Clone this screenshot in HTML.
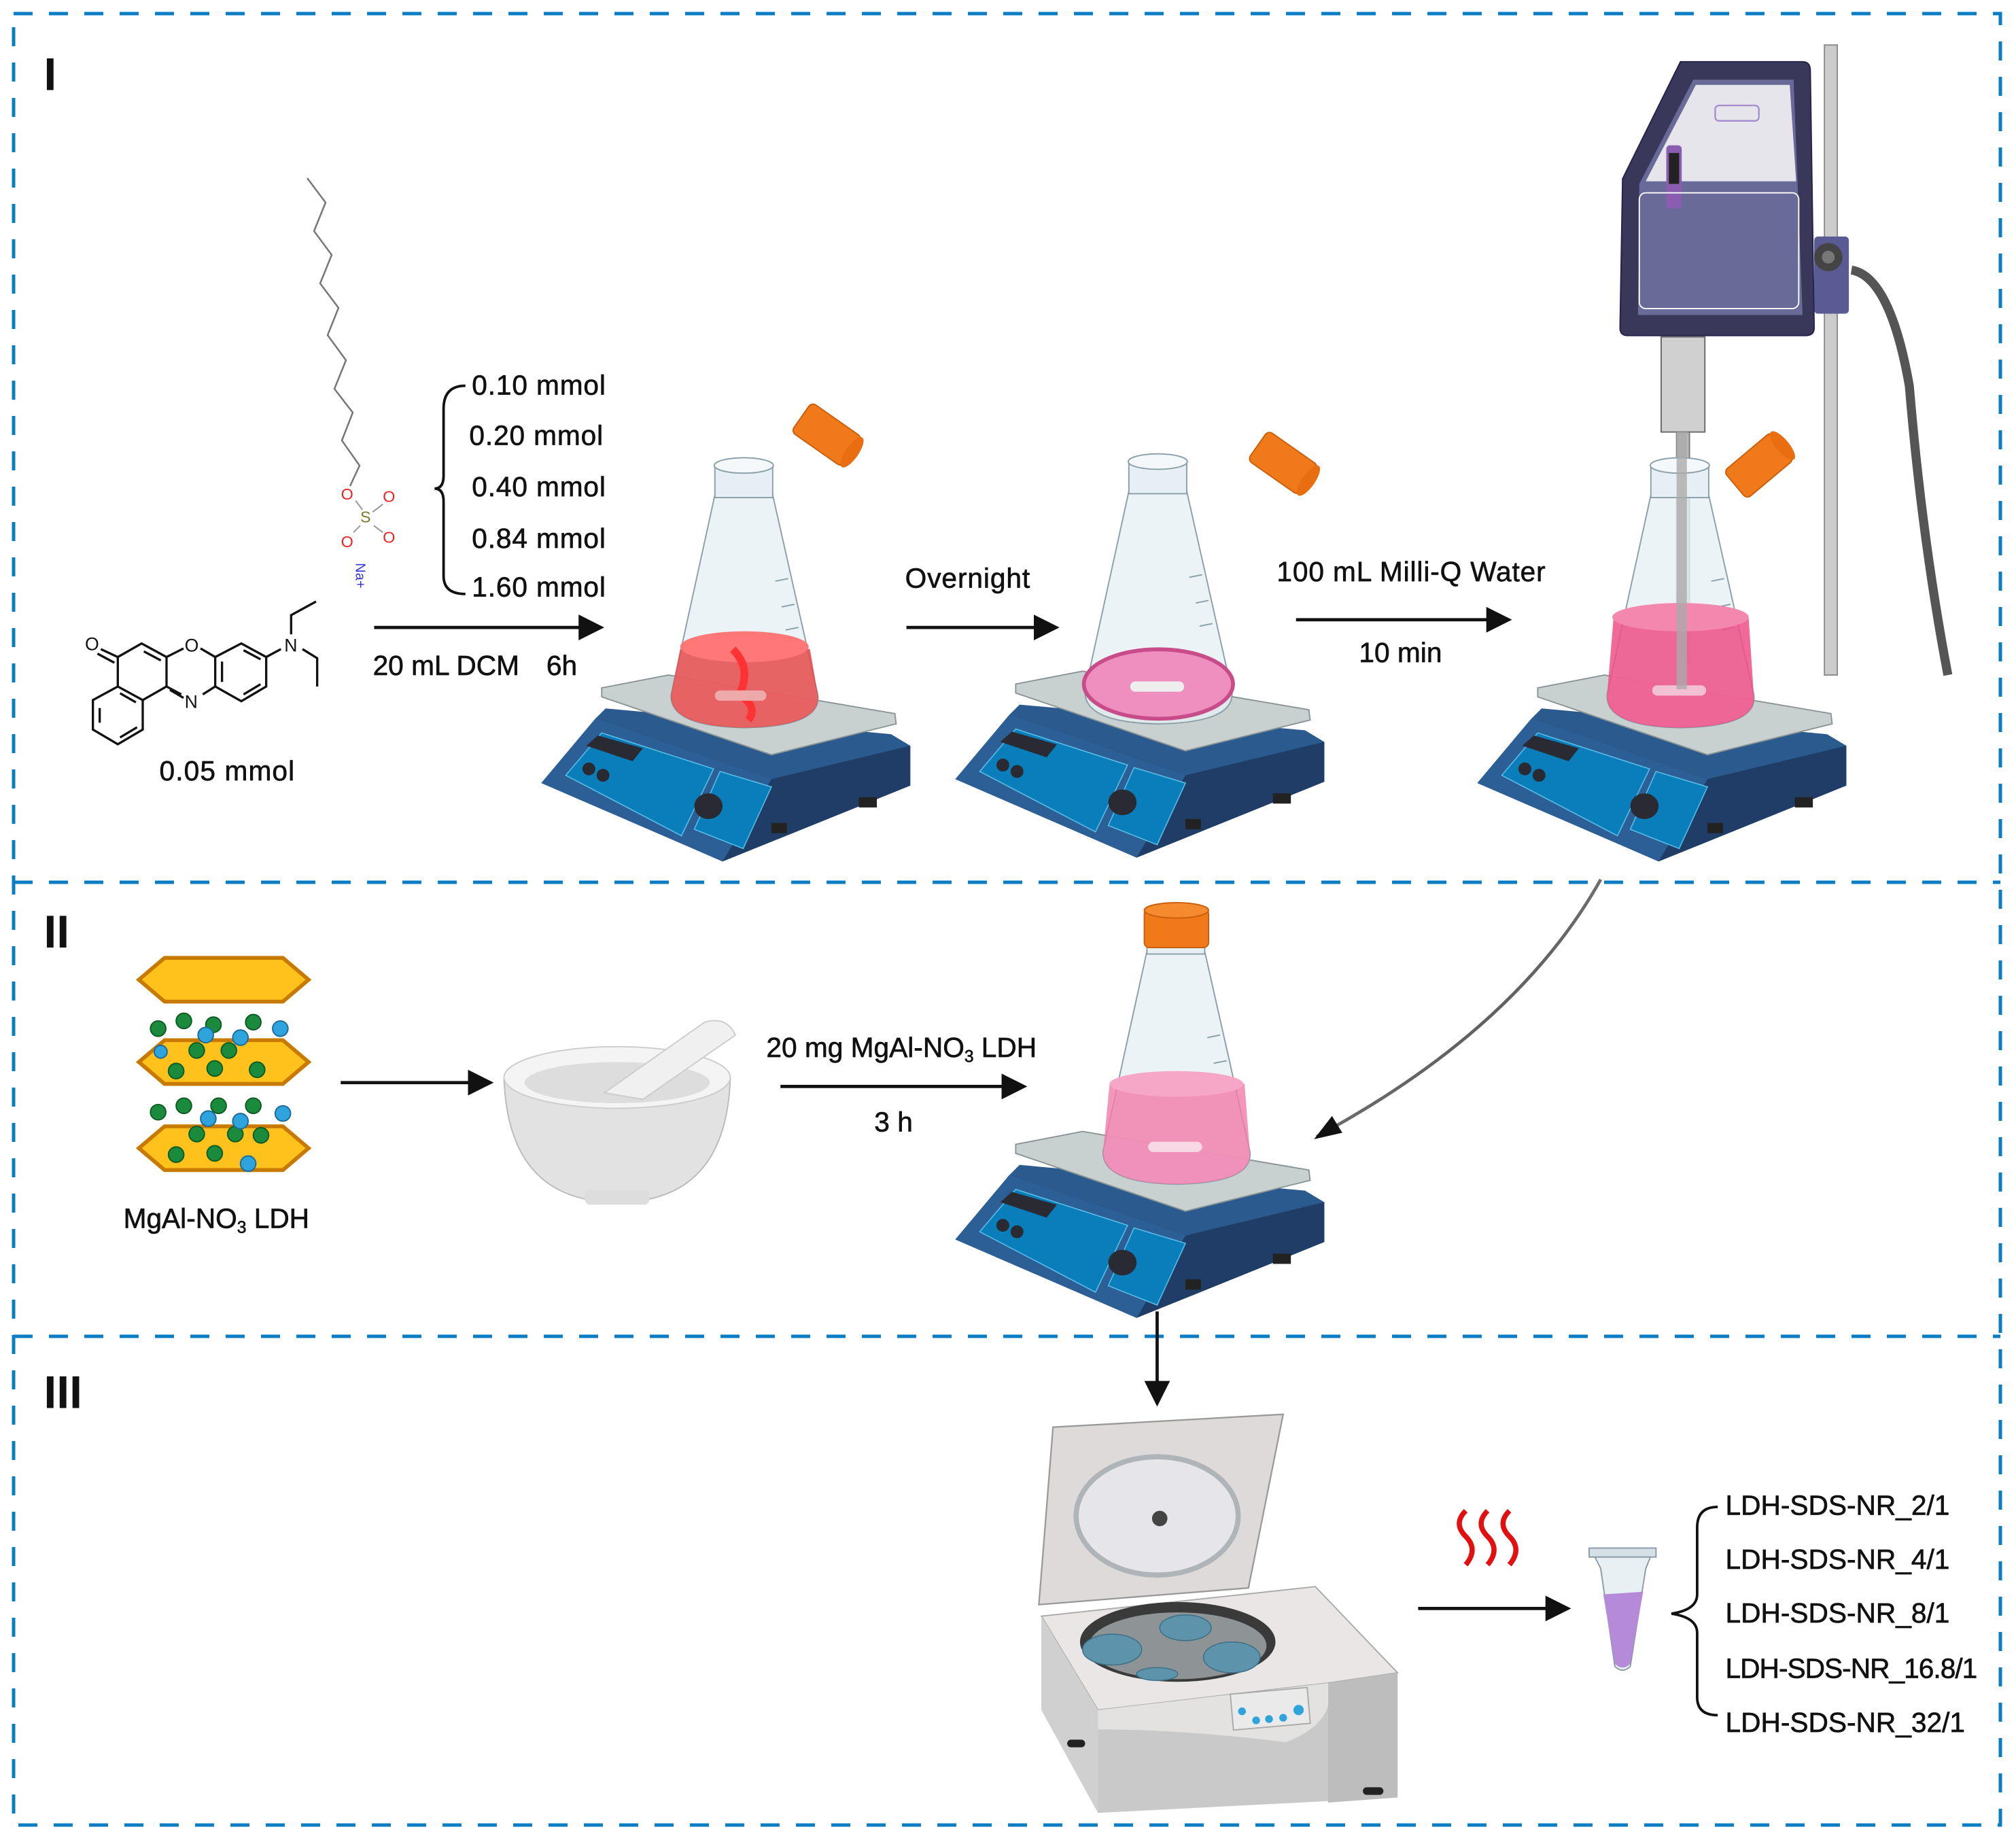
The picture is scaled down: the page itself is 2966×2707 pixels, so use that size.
<!DOCTYPE html>
<html><head><meta charset="utf-8"><style>
html,body{margin:0;padding:0;background:#fff;}
svg{display:block;}
text{font-family:"Liberation Sans",sans-serif;fill:#111;}
.t text{stroke:#111;stroke-width:0.35;}
</style></head><body>
<svg width="2966" height="2707" viewBox="0 0 2966 2707" xmlns="http://www.w3.org/2000/svg">
<defs>
<marker id="ah2" viewBox="0 0 10 10" refX="8" refY="5" markerWidth="20" markerHeight="20" orient="auto" markerUnits="userSpaceOnUse"><path d="M0,0 L10,5 L0,10 Z" fill="#111"/></marker>
<g id="plate">
 <polygon points="421,609 463,559 471,551 693,571 708,580 708,611 562,670" fill="#2b5a8e"/>
 <polygon points="463,559 600,606 562,670 421,609" fill="#2c5f95"/>
 <polygon points="600,606 708,580 708,611 562,670" fill="#1f3d66"/>
 <polygon points="440,603 468,570 555,598 530,650" fill="#0a7dbb" stroke="#5bc0e8" stroke-width="0.8"/>
 <polygon points="560,600 600,612 578,660 540,645" fill="#0a7dbb" stroke="#5bc0e8" stroke-width="0.8"/>
 <polygon points="456,580 465,572 500,582 492,592" fill="#2a2a33"/>
 <circle cx="458" cy="598" r="5" fill="#2a2a33"/><circle cx="469" cy="603" r="5" fill="#2a2a33"/>
 <ellipse cx="551" cy="627" rx="11" ry="10" fill="#2a2a33"/>
 <rect x="600" y="640" width="12" height="8" fill="#222"/><rect x="668" y="620" width="14" height="8" fill="#222"/>
 <polygon points="468,535 520,525 696,555 697,563 600,587 468,542" fill="#c9d0d0" stroke="#8a9494" stroke-width="1"/>
</g>
<g id="flaskbody">
 <path d="M556,385 L522,540 Q520,565 579,566 Q640,565 636,540 L601,385 Z" fill="#e6f0f4" fill-opacity="0.8" stroke="#8a9ea8" stroke-width="1"/>
 <rect x="556" y="362" width="45" height="25" fill="#e6f0f4" stroke="#8a9ea8" stroke-width="1"/>
 <ellipse cx="578.5" cy="362" rx="23" ry="6" fill="#f4f8fa" stroke="#8a9ea8" stroke-width="1"/>
 <path d="M613,450 l-10,2 M618,470 l-10,2 M621,488 l-10,2" stroke="#8a9ea8" stroke-width="1"/>
</g>
<g id="cap"><rect x="-24" y="-14" width="48" height="28" rx="4" fill="#f07a1a" stroke="#c85e0a" stroke-width="1"/><ellipse cx="24" cy="0" rx="5" ry="14" fill="#e86e10"/></g>
<linearGradient id="gr" x1="0" y1="0" x2="1" y2="1"><stop offset="0" stop-color="#ccc"/><stop offset="1" stop-color="#111"/></linearGradient>
</defs>

<g fill="none" stroke="#0a7dc4" stroke-width="5" stroke-dasharray="28 24">
<rect x="20" y="20" width="2923" height="2665"/>
<line x1="20" y1="1298" x2="2943" y2="1298"/>
<line x1="20" y1="1966" x2="2943" y2="1966"/>
</g>

<g fill="none" stroke="#777" stroke-width="2.5">
<polyline points="452,262 479,298 462,340 488,375 471,417 498,453 482,493 509,530 492,572 519,607 503,648 529,685 515,715"/>
</g>
<g transform="translate(100,650) scale(0.3333)">
 <g fill="none" stroke="#111" stroke-width="10">
 <polygon points="110,1140 220,1080 330,1140 330,1270 220,1335 110,1270"/>
 <polyline points="140,1175 140,1240"/><polyline points="230,1305 305,1260"/><polyline points="230,1110 300,1150"/>
 <polyline points="220,1080 220,950 325,890 435,950 435,1080 330,1140"/>
 <polyline points="335,925 410,965"/>
 <polyline points="220,950 145,915"/><polyline points="205,975 130,935"/>
 <polyline points="435,950 510,912"/><polyline points="585,912 650,950 650,1080 595,1115"/><polyline points="500,1115 435,1080"/>
 <polyline points="450,1095 510,1130"/><polyline points="680,970 680,1060"/>
 <polyline points="650,950 765,890 875,950 875,1080 765,1145 650,1080"/>
 <polyline points="775,920 850,960"/><polyline points="775,1115 850,1070"/>
 <polyline points="875,950 940,915"/><polyline points="985,850 985,765 1095,705"/><polyline points="1035,915 1100,955 1100,1080"/>
 </g>
 <text x="75" y="920" font-size="80">O</text>
 <text x="515" y="925" font-size="80">O</text>
 <text x="515" y="1175" font-size="80">N</text>
 <text x="955" y="925" font-size="80">N</text>
 <g fill="none" stroke="#999" stroke-width="6"><polyline points="1270,260 1300,300"/><polyline points="1345,310 1390,275"/><polyline points="1290,370 1260,400"/><polyline points="1350,370 1390,400"/></g>
 <text x="1205" y="255" font-size="70" style="fill:#e22">O</text>
 <text x="1390" y="265" font-size="70" style="fill:#e22">O</text>
 <text x="1290" y="355" font-size="70" style="fill:#7a7a2a">S</text>
 <text x="1205" y="465" font-size="70" style="fill:#e22">O</text>
 <text x="1390" y="445" font-size="70" style="fill:#e22">O</text>
 <text x="1215" y="530" font-size="60" transform="rotate(90 1240 560)" style="fill:#33d">Na+</text>
</g>

<g transform="scale(1.8916)">
<text x="34" y="70" font-size="36" font-weight="bold">I</text>
<text x="34" y="737" font-size="36" font-weight="bold">II</text>
<text x="34" y="1095" font-size="36" font-weight="bold">III</text>

<path d="M362,300 Q345,300 345,318 L345,370 Q345,380 338,380 Q345,380 345,390 L345,448 Q345,462 362,462" fill="none" stroke="#111" stroke-width="2"/>
<g font-size="21.5" class="t">
<text x="367" y="307" textLength="104">0.10 mmol</text>
<text x="365" y="346" textLength="104">0.20 mmol</text>
<text x="367" y="386" textLength="104">0.40 mmol</text>
<text x="367" y="426" textLength="104">0.84 mmol</text>
<text x="367" y="464" textLength="104">1.60 mmol</text>
<text x="290" y="525">20 mL DCM</text>
<text x="425" y="525">6h</text>
<text x="124" y="607" textLength="105">0.05 mmol</text>
<text x="704" y="457" textLength="97">Overnight</text>
<text x="993" y="452" textLength="209">100 mL Milli-Q Water</text>
<text x="1057" y="515">10 min</text>
<text x="596" y="822">20 mg MgAl-NO<tspan font-size="13" dy="4">3</tspan><tspan dy="-4"> LDH</tspan></text>
<text x="680" y="880">3 h</text>
<text x="96" y="955">MgAl-NO<tspan font-size="13" dy="4">3</tspan><tspan dy="-4"> LDH</tspan></text>
<text x="1342" y="1178">LDH-SDS-NR_2/1</text>
<text x="1342" y="1220">LDH-SDS-NR_4/1</text>
<text x="1342" y="1262">LDH-SDS-NR_8/1</text>
<text x="1342" y="1305" textLength="196">LDH-SDS-NR_16.8/1</text>
<text x="1342" y="1347">LDH-SDS-NR_32/1</text>
</g>
<path d="M1336,1172 Q1320,1172 1320,1188 L1320,1240 Q1320,1252 1300,1255 Q1320,1258 1320,1270 L1320,1320 Q1320,1334 1336,1334" fill="none" stroke="#111" stroke-width="2"/>

<g stroke="#111" stroke-width="2.5" fill="none" marker-end="url(#ah2)">
<line x1="291" y1="488" x2="466" y2="488"/>
<line x1="705" y1="488" x2="820" y2="488"/>
<line x1="1008" y1="482" x2="1172" y2="482"/>
<line x1="265" y1="842" x2="380" y2="842"/>
<line x1="607" y1="845" x2="795" y2="845"/>
<line x1="900" y1="1020" x2="900" y2="1090"/>
<line x1="1103" y1="1251" x2="1218" y2="1251"/>
</g>
<path d="M1245,684 Q1180,800 1024,884" stroke="url(#gr)" stroke-width="2.5" fill="none"/>
<path d="M1036,868 L1022,886 L1044,881 Z" fill="#111"/>

<use href="#plate"/>
<use href="#plate" transform="translate(322,-3)"/>
<use href="#plate" transform="translate(728,0)"/>
<use href="#plate" transform="translate(322,355)"/>

<use href="#flaskbody"/>
<path d="M529,505 Q579,488 630,505 L636,540 Q640,565 579,566 Q520,565 522,540 Z" fill="#e64a4a" fill-opacity="0.85"/>
<ellipse cx="579" cy="503" rx="50" ry="12" fill="#f77"/>
<path d="M570,505 Q585,520 575,540 Q590,550 582,560" stroke="#f33" stroke-width="6" fill="none"/>
<rect x="556" y="537" width="40" height="8" rx="4" fill="#eaa"/>
<use href="#cap" transform="translate(643,338) rotate(35)"/>

<g transform="translate(322,-3)"><use href="#flaskbody"/>
<ellipse cx="579" cy="535" rx="58" ry="27" fill="#ef8fc0" stroke="#c84b8a" stroke-width="3"/>
<rect x="557" y="533" width="42" height="8" rx="4" fill="#eee"/></g>
<use href="#cap" transform="translate(998,360) rotate(35)"/>

<rect x="1419" y="35" width="10" height="490" fill="#ccc" stroke="#888" stroke-width="1"/>
<path d="M1440,210 Q1470,215 1485,300 Q1495,420 1515,525" stroke="#555" stroke-width="7" fill="none"/>
<rect x="1411" y="184" width="27" height="60" rx="3" fill="#5a5a95"/>
<circle cx="1422" cy="200" r="11" fill="#444"/><circle cx="1422" cy="200" r="5" fill="#777"/>
<rect x="1292" y="262" width="34" height="74" fill="#d0d0d0" stroke="#666" stroke-width="1"/>
<rect x="1304" y="336" width="10" height="180" fill="#bbb" stroke="#777" stroke-width="1"/>
<path d="M1307,48 L1402,48 Q1408,48 1408,55 L1411,255 Q1411,261 1404,261 L1266,261 Q1260,261 1260,255 L1262,139 Z" fill="#39375a" stroke="#23224a" stroke-width="1"/>
<path d="M1317,62 L1395,62 L1402,245 L1274,245 L1275,143 Z" fill="#696a98"/>
<path d="M1319,66 L1392,66 L1397,141 L1280,141 Z" fill="#e6e5ec"/>
<rect x="1334" y="82" width="34" height="12" rx="3" fill="none" stroke="#a58bd0" stroke-width="1.2"/>
<rect x="1296" y="113" width="12" height="49" rx="3" fill="#8b5db0"/>
<rect x="1298" y="119" width="8" height="24" fill="#222"/>
<rect x="1275" y="150" width="124" height="90" rx="5" fill="none" stroke="#fff" stroke-width="1"/>

<g transform="translate(728,0)"><use href="#flaskbody"/>
<path d="M527,480 Q579,466 632,480 L636,540 Q640,565 579,566 Q520,565 522,540 Z" fill="#ef4f86" fill-opacity="0.85"/>
<ellipse cx="579" cy="480" rx="53" ry="11" fill="#f487ad"/>
<rect x="557" y="533" width="42" height="8" rx="4" fill="#f2c0d2"/></g>
<rect x="1304" y="336" width="8" height="200" fill="#aaa" opacity="0.8"/>
<use href="#cap" transform="translate(1368,362) rotate(-40)"/>

<g transform="translate(336,355)"><use href="#flaskbody"/>
<path d="M527,488 Q579,476 632,488 L636,540 Q640,565 579,566 Q520,565 522,540 Z" fill="#f27aaa" fill-opacity="0.8"/>
<ellipse cx="579" cy="488" rx="52" ry="10" fill="#f6a6c6"/>
<rect x="557" y="533" width="42" height="8" rx="4" fill="#f7d8e4"/></g>
<rect x="890" y="707" width="50" height="30" rx="4" fill="#f07a1a" stroke="#c85e0a"/>
<ellipse cx="915" cy="708" rx="25" ry="6" fill="#f58a2e" stroke="#c85e0a"/>

<g stroke="#c87a00" stroke-width="3" fill="#ffc21c">
<polygon points="108,762 128,745 220,745 240,762 220,779 128,779"/>
<polygon points="108,826 128,809 220,809 240,826 220,843 128,843"/>
<polygon points="108,893 128,876 220,876 240,893 220,910 128,910"/>
</g>
<g fill="#1a8a3c" stroke="#0d5a22" stroke-width="1">
<circle cx="123" cy="800" r="6"/><circle cx="143" cy="794" r="6"/><circle cx="166" cy="797" r="6"/><circle cx="197" cy="795" r="6"/>
<circle cx="153" cy="817" r="6"/><circle cx="178" cy="817" r="6"/><circle cx="137" cy="833" r="6"/><circle cx="167" cy="831" r="6"/><circle cx="200" cy="832" r="6"/>
<circle cx="123" cy="865" r="6"/><circle cx="143" cy="860" r="6"/><circle cx="170" cy="860" r="6"/><circle cx="197" cy="860" r="6"/>
<circle cx="153" cy="882" r="6"/><circle cx="183" cy="882" r="6"/><circle cx="137" cy="898" r="6"/><circle cx="167" cy="897" r="6"/><circle cx="203" cy="883" r="6"/>
</g>
<g fill="#2ea3dc" stroke="#1a6a9a" stroke-width="1">
<circle cx="218" cy="800" r="6"/><circle cx="160" cy="805" r="6"/><circle cx="187" cy="807" r="6"/><circle cx="220" cy="866" r="6"/><circle cx="162" cy="870" r="6"/><circle cx="187" cy="872" r="6"/><circle cx="193" cy="905" r="6"/><circle cx="125" cy="818" r="5"/>
</g>

<path d="M392,838 Q395,935 480,935 Q565,935 568,838 Z" fill="#e2e2e2" stroke="#bbb"/>
<ellipse cx="480" cy="838" rx="88" ry="24" fill="#f4f4f4" stroke="#ccc"/>
<ellipse cx="480" cy="842" rx="72" ry="16" fill="#ddd"/>
<path d="M470,850 L548,795 Q565,790 572,805 L500,855 Z" fill="#f0f0f0" stroke="#ccc"/>
<rect x="455" y="925" width="50" height="12" rx="4" fill="#ddd"/>

<polygon points="819,1110 998,1100 971,1235 808,1248" fill="#dedad9" stroke="#999" stroke-width="1.2"/>
<ellipse cx="900" cy="1179" rx="63" ry="46" fill="#e6e6ea" stroke="#aeb4b8" stroke-width="4"/>
<circle cx="902" cy="1181" r="6" fill="#444"/>
<polygon points="810,1257 1023,1234 1087,1301 1087,1398 854,1410 810,1330" fill="#c9c9c9"/>
<polygon points="810,1257 1023,1234 1087,1301 1033,1309 854,1330" fill="#e9e6e5" stroke="#aaa" stroke-width="1"/>
<polygon points="810,1257 854,1330 854,1410 810,1330" fill="#d0d0d0"/>
<path d="M854,1330 L1033,1309 Q1040,1340 1000,1355 Q920,1345 854,1345 Z" fill="#e4e2e1"/>
<polygon points="1033,1309 1087,1301 1087,1398 1033,1402" fill="#bdbdbd"/>
<ellipse cx="916" cy="1277" rx="76" ry="31" fill="#3a3a3a"/>
<ellipse cx="916" cy="1280" rx="69" ry="26" fill="#8e9496"/>
<g fill="#5e93ac" stroke="#3d6f88" stroke-width="0.8">
<ellipse cx="865" cy="1283" rx="23" ry="12"/><ellipse cx="922" cy="1266" rx="20" ry="10"/><ellipse cx="958" cy="1289" rx="22" ry="12"/><ellipse cx="900" cy="1302" rx="16" ry="5"/>
</g>
<rect x="958" y="1315" width="60" height="28" fill="#eaeaea" stroke="#aaa" transform="rotate(-5 988 1329)"/>
<g fill="#2ea3dc"><circle cx="966" cy="1331" r="3"/><circle cx="977" cy="1338" r="3"/><circle cx="987" cy="1337" r="3"/><circle cx="998" cy="1336" r="3"/><circle cx="1010" cy="1330" r="4"/></g>
<rect x="830" y="1353" width="14" height="6" rx="3" fill="#222"/><rect x="1060" y="1390" width="16" height="6" rx="3" fill="#222"/>

<g stroke="#e31010" stroke-width="4" fill="none">
<path d="M1140,1175 q-10,10 0,20 q10,10 0,22"/>
<path d="M1157,1175 q-10,10 0,20 q10,10 0,22"/>
<path d="M1174,1175 q-10,10 0,20 q10,10 0,22"/>
</g>
<path d="M1240,1210 L1284,1210 L1280,1220 L1268,1296 Q1262,1302 1256,1296 L1245,1220 Z" fill="#e8f0f4" stroke="#889aa5"/>
<path d="M1247,1240 L1278,1238 L1268,1294 Q1262,1300 1256,1294 Z" fill="#b58ad8"/>
<rect x="1236" y="1204" width="52" height="7" fill="#d5e0e6" stroke="#889aa5"/>
</g>
</svg>
</body></html>
